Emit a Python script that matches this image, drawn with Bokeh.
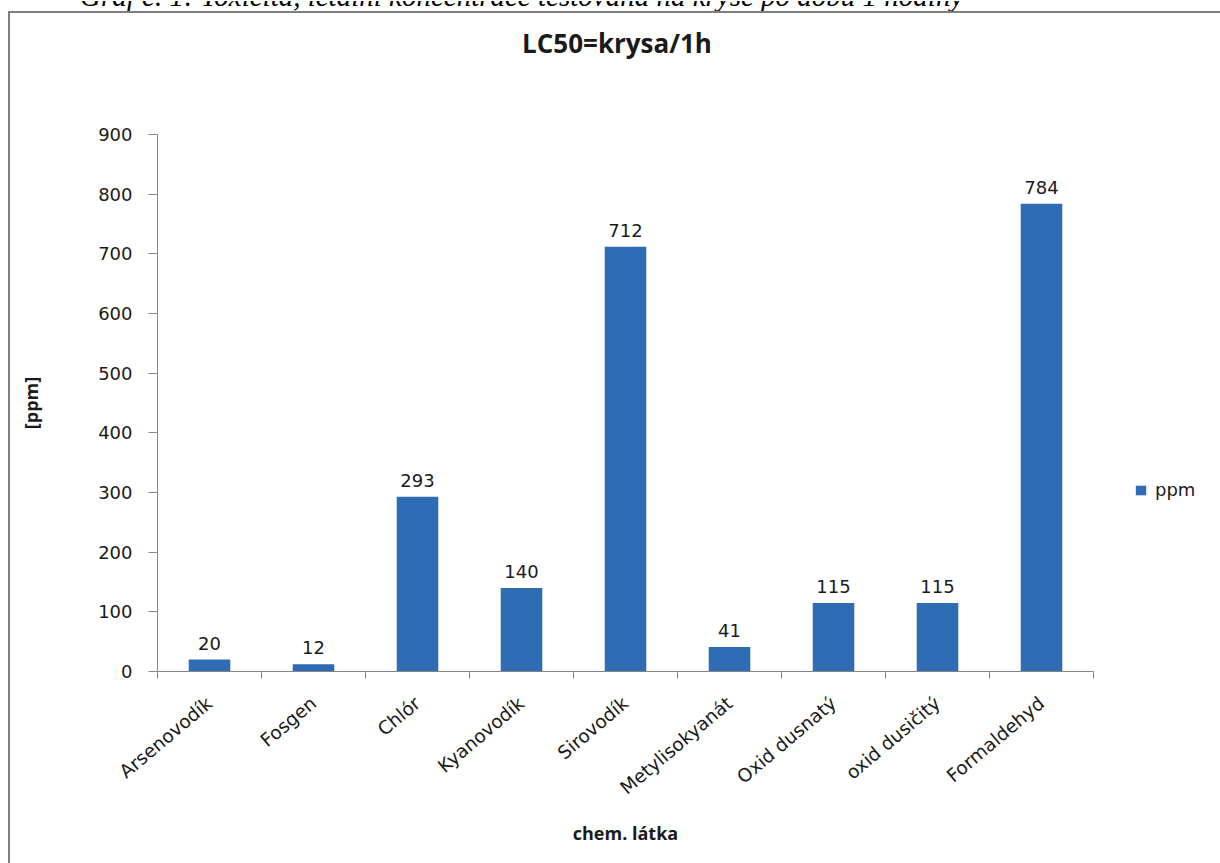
import math
from bokeh.plotting import figure
from bokeh.layouts import column, row
from bokeh.models import (ColumnDataSource, Range1d, LinearAxis, FixedTicker, LabelSet,
                          Legend, LegendItem, Div)
from bokeh.core.properties import value
from bokeh.embed import file_html
from bokeh.resources import INLINE

categories = ["Arsenovodík", "Fosgen", "Chlór", "Kyanovodík", "Sirovodík",
              "Metylisokyanát", "Oxid dusnatý", "oxid dusičitý", "Formaldehyd"]
values = [20, 12, 293, 140, 712, 41, 115, 115, 784]
y_ticks = [0, 100, 200, 300, 400, 500, 600, 700, 800, 900]
series_name = "ppm"
title_text = "LC50=krysa/1h"
caption_text = "Graf č. 1: Toxicita, letální koncentrace testovaná na kryse po dobu 1 hodiny"

n = len(categories)
centers = [i + 0.5 for i in range(n)]
src = ColumnDataSource(dict(x=centers, cat=categories, val=values, lab=[str(v) for v in values]))

AX = "#868686"
TXT = "#1a1a1a"
BORDER = "#7f7f7f"

p = figure(frame_width=936, frame_height=537, x_range=Range1d(0, n), y_range=Range1d(0, 900),
           output_backend="svg", toolbar_location=None,
           x_axis_location=None, y_axis_location=None,
           min_border_left=147, min_border_right=127, min_border_top=21, min_border_bottom=192)
p.outline_line_color = None
p.xgrid.visible = False
p.ygrid.visible = False
p.background_fill_color = "white"
p.border_fill_color = "white"

yax = LinearAxis(ticker=FixedTicker(ticks=y_ticks), axis_line_color=AX, major_tick_line_color=AX,
                 major_tick_out=9, major_tick_in=0, minor_tick_line_color=None,
                 major_label_standoff=16, major_label_text_font="DejaVu Sans",
                 major_label_text_font_size="18px", major_label_text_color=TXT,
                 axis_label="[ppm]", axis_label_text_font="Open Sans",
                 axis_label_text_font_style="bold", axis_label_text_font_size="18px",
                 axis_label_text_color=TXT, axis_label_standoff=52)
p.add_layout(yax, "left")

xax = LinearAxis(ticker=FixedTicker(ticks=centers, minor_ticks=list(range(n + 1))),
                 major_label_overrides={c: name for c, name in zip(centers, categories)},
                 axis_line_color=AX, major_tick_line_color=None, major_tick_out=0,
                 major_tick_in=0, minor_tick_line_color=AX, minor_tick_out=7, minor_tick_in=0,
                 major_label_orientation=0.70,
                 major_label_text_font="DejaVu Sans", major_label_text_font_size="18.5px",
                 major_label_text_color=TXT, major_label_standoff=22,
                 axis_label="chem. látka", axis_label_text_font="Open Sans",
                 axis_label_text_font_style="bold", axis_label_text_font_size="18px",
                 axis_label_text_color=TXT, axis_label_standoff=12)
p.add_layout(xax, "below")

bars = p.vbar(x="x", top="val", bottom=0, width=0.4, source=src,
              fill_color="#2e6db4", line_color=None)

labels = LabelSet(x="x", y="val", text="lab", source=src, y_offset=10,
                  text_align="center", text_baseline="bottom",
                  text_font=value("DejaVu Sans"), text_font_size=value("18px"), text_color=TXT)
p.add_layout(labels)

legend = Legend(items=[LegendItem(label=series_name, renderers=[bars])], location=(41, 171),
                padding=0, margin=0, border_line_color=None, background_fill_alpha=0,
                glyph_width=13, glyph_height=12, label_standoff=8,
                label_text_font="DejaVu Sans", label_text_font_size="18px", label_text_color=TXT)
p.add_layout(legend, "right")

caption_html = ('<div style="position:relative;width:1220px;height:11px;overflow:hidden;">'
                '<span style="position:absolute;left:80px;top:-19px;white-space:nowrap;'
                'font-family:\'Liberation Serif\';font-style:italic;font-size:29px;'
                'line-height:29px;color:#000;">' + caption_text + '</span></div>')
caption = Div(text=caption_html, width=1220, height=11, margin=0,
              styles={"overflow": "hidden"})

title_html = ('<div style="position:relative;width:1210px;height:100px;">'
              '<span style="position:absolute;left:607px;top:17px;transform:translateX(-50%);'
              'white-space:nowrap;font-family:\'Open Sans\';font-weight:bold;font-size:26px;'
              'line-height:26px;color:' + TXT + ';">' + title_text + '</span></div>')
title_div = Div(text=title_html, width=1210, height=100, margin=0)

gap = Div(text="", width=8, height=852, margin=0)
vline = Div(text="", width=2, height=852, margin=0, styles={"background-color": BORDER})
hline = Div(text="", width=1210, height=2, margin=0, styles={"background-color": BORDER})

layout = column(caption,
                row(gap, vline, column(hline, title_div, p, spacing=0), spacing=0),
                spacing=0)

open("out.html", "w").write(file_html(layout, INLINE))
